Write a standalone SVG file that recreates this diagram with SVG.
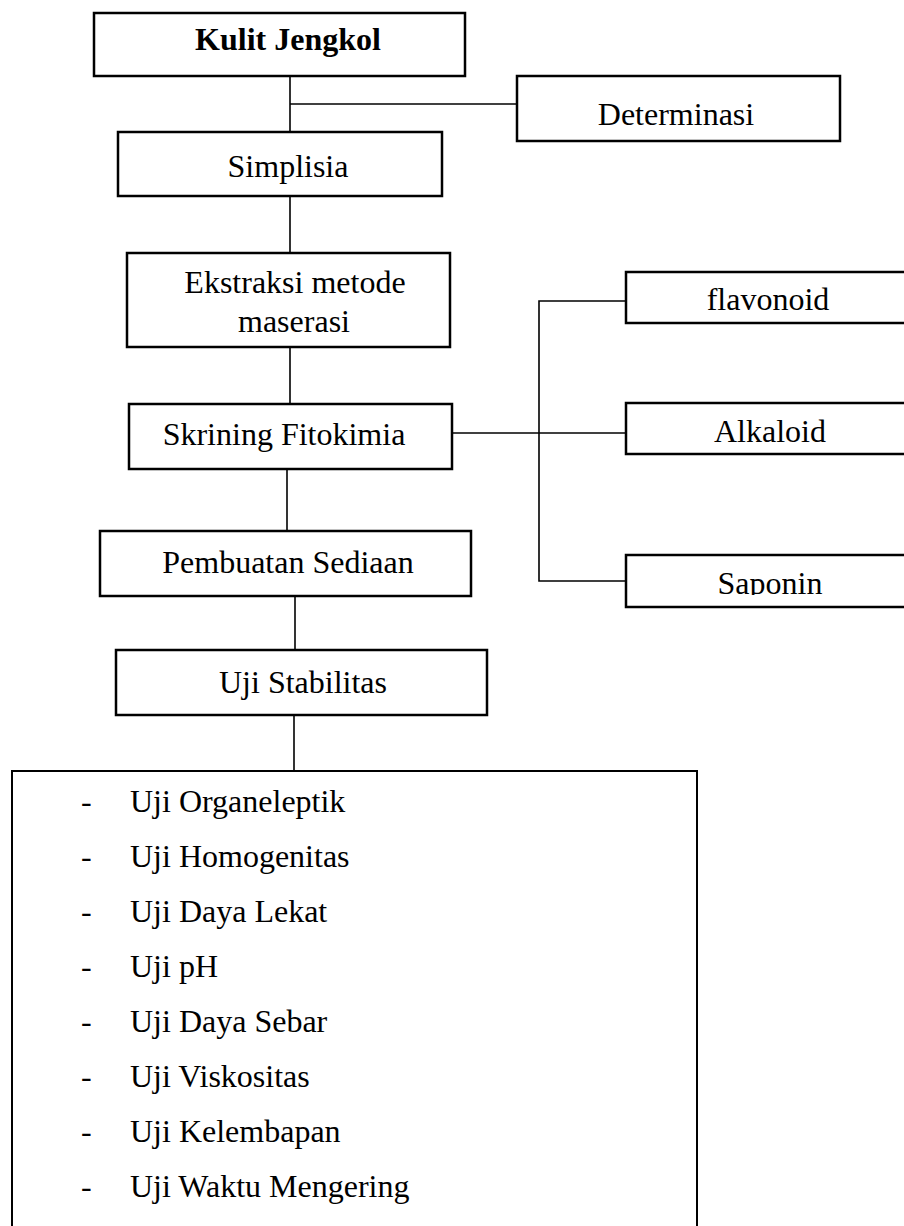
<svg xmlns="http://www.w3.org/2000/svg" width="904" height="1226" viewBox="0 0 904 1226">
<style>
.box{fill:#fff;stroke:#000;stroke-width:2.5}
.ln{fill:none;stroke:#000;stroke-width:1.6}
.t{font-family:"Liberation Serif","Times New Roman",serif;font-size:32px;fill:#000}
.c{text-anchor:middle}
.b{font-weight:bold}
</style>
<defs>
<clipPath id="clipSap"><rect x="626" y="556" width="300" height="39"/></clipPath>
</defs>
<rect x="0" y="0" width="904" height="1226" fill="#fff"/>
<g id="connectors">
<path class="ln" d="M290 76V132"/>
<path class="ln" d="M290 104H517" style="stroke-width:1.3"/>
<path class="ln" d="M290 196V253"/>
<path class="ln" d="M290 347V404"/>
<path class="ln" d="M452 433H626"/>
<path class="ln" d="M626 301H539V581H626"/>
<path class="ln" d="M287 469V531"/>
<path class="ln" d="M295 596V650"/>
<path class="ln" d="M294 715V771"/>
</g>
<g id="kulit">
<rect class="box" x="94" y="13" width="371" height="63"/>
<text class="t c b" x="288" y="50">Kulit Jengkol</text>
</g>
<g id="determinasi">
<rect class="box" x="517" y="76" width="323" height="65"/>
<text class="t c" x="676" y="125">Determinasi</text>
</g>
<g id="simplisia">
<rect class="box" x="118" y="132" width="324" height="64"/>
<text class="t c" x="288" y="177">Simplisia</text>
</g>
<g id="ekstraksi">
<rect class="box" x="127" y="253" width="323" height="94"/>
<text class="t c" x="295" y="293">Ekstraksi metode</text>
<text class="t c" x="294" y="332">maserasi</text>
</g>
<g id="skrining">
<rect class="box" x="129" y="404" width="323" height="65"/>
<text class="t c" x="284" y="445">Skrining Fitokimia</text>
</g>
<g id="flavonoid">
<rect class="box" x="626" y="272" width="300" height="51"/>
<text class="t c" x="768" y="310">flavonoid</text>
</g>
<g id="alkaloid">
<rect class="box" x="626" y="403" width="300" height="51"/>
<text class="t c" x="770" y="442">Alkaloid</text>
</g>
<g id="saponin">
<rect class="box" x="626" y="555" width="300" height="52"/>
<text class="t c" x="770" y="594" clip-path="url(#clipSap)">Saponin</text>
</g>
<g id="pembuatan">
<rect class="box" x="100" y="531" width="371" height="65"/>
<text class="t c" x="288" y="573">Pembuatan Sediaan</text>
</g>
<g id="ujistabilitas">
<rect class="box" x="116" y="650" width="371" height="65"/>
<text class="t c" x="303" y="693">Uji Stabilitas</text>
</g>
<g id="ujilist">
<rect class="box" x="12" y="771" width="685" height="480" style="stroke-width:2"/>
<g class="t">
<text x="81" y="812">-</text><text x="130" y="812">Uji Organeleptik</text>
<text x="81" y="867">-</text><text x="130" y="867">Uji Homogenitas</text>
<text x="81" y="922">-</text><text x="130" y="922">Uji Daya Lekat</text>
<text x="81" y="977">-</text><text x="130" y="977">Uji pH</text>
<text x="81" y="1032">-</text><text x="130" y="1032">Uji Daya Sebar</text>
<text x="81" y="1087">-</text><text x="130" y="1087">Uji Viskositas</text>
<text x="81" y="1142">-</text><text x="130" y="1142">Uji Kelembapan</text>
<text x="81" y="1197">-</text><text x="130" y="1197">Uji Waktu Mengering</text>
</g>
</g>
</svg>
